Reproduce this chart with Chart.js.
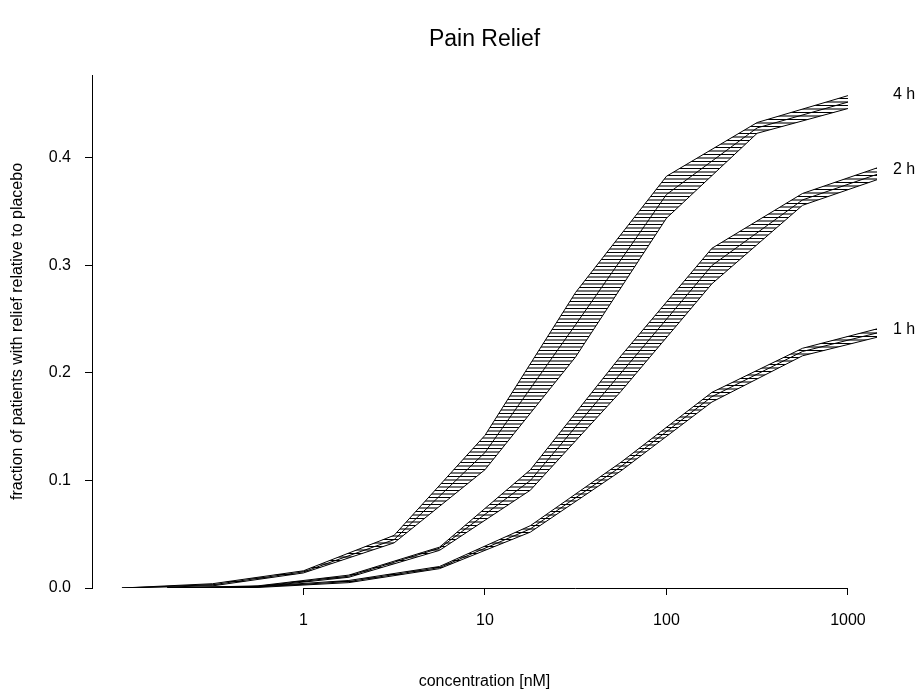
<!DOCTYPE html>
<html>
<head>
<meta charset="utf-8">
<script src="https://cdn.jsdelivr.net/npm/chart.js@4"></script>
<style>
  html, body { margin: 0; padding: 0; background: #fff; }
  #wrap { width: 921px; height: 694px; }
</style>
</head>
<body>
<div id="wrap"><canvas id="painChart" width="921" height="694"></canvas></div>
<script>
// concentrations (nM) for each time group
const conc4h = [0.1, 0.316, 1, 3.16, 10, 31.6, 100, 316, 1000];
const conc12h = [0.178, 0.562, 1.78, 5.62, 17.8, 56.2, 178, 562, 1778];

// 4 h band
const lower4h = [0, 0.002, 0.014, 0.042, 0.110, 0.215, 0.344, 0.423, 0.446];
const mid4h   = [0, 0.003, 0.015, 0.045, 0.126, 0.245, 0.366, 0.428, 0.452];
const upper4h = [0, 0.004, 0.016, 0.049, 0.142, 0.275, 0.383, 0.433, 0.458];

// 2 h band
const lower2h = [0, 0.001, 0.010, 0.035, 0.091, 0.183, 0.283, 0.356, 0.385];
const mid2h   = [0, 0.0015, 0.011, 0.037, 0.100, 0.200, 0.300, 0.361, 0.390];
const upper2h = [0, 0.002, 0.012, 0.038, 0.110, 0.216, 0.316, 0.367, 0.396];

// 1 h band
const lower1h = [0, 0.0005, 0.005, 0.018, 0.052, 0.109, 0.173, 0.216, 0.237];
const mid1h   = [0, 0.001, 0.006, 0.019, 0.055, 0.113, 0.178, 0.220, 0.241];
const upper1h = [0, 0.0015, 0.007, 0.020, 0.058, 0.117, 0.182, 0.223, 0.245];

// curve labels at the right margin
const curveNames = ['4 h', '2 h', '1 h'];
const curveLabelY = [0.459, 0.389, 0.240];

// tick labels
const xTicks = [1, 10, 100, 1000];
const yTicks = [0, 0.1, 0.2, 0.3, 0.4];

const FONT = "'Liberation Sans', Arial, Helvetica, sans-serif";

// horizontal hatching pattern
function makeHatch() {
    const c = document.createElement('canvas');
    c.width = 8;
    c.height = 7;
    const g = c.getContext('2d');
    g.fillStyle = '#000';
    g.fillRect(0, 0, 8, 1);
    g.fillStyle = 'rgba(0,0,0,0.55)';
    g.fillRect(0, 3, 8, 2);
    return g.createPattern(c, 'repeat');
}
const hatch = makeHatch();

const toPts = (xs, ys) => xs.map((x, i) => ({x: x, y: ys[i]}));

const lineBase = {
    borderColor: '#000',
    borderWidth: 1,
    pointRadius: 0,
    tension: 0,
    fill: false
};

function band(xs, lo, mid, up) {
    return [
        {...lineBase, data: toPts(xs, lo)},
        {...lineBase, data: toPts(xs, up), fill: '-1', backgroundColor: hatch},
        {...lineBase, data: toPts(xs, mid)}
    ];
}

const extras = {
    id: 'extras',
    afterDraw(chart) {
        const {ctx, chartArea, scales} = chart;
        const x = scales.x, y = scales.y;
        ctx.save();
        // x axis line only between first and last tick
        ctx.strokeStyle = '#000';
        ctx.lineWidth = 1;
        const yb = Math.round(chartArea.bottom) + 0.5;
        ctx.beginPath();
        ctx.moveTo(x.getPixelForValue(xTicks[0]), yb);
        ctx.lineTo(x.getPixelForValue(xTicks[xTicks.length - 1]), yb);
        ctx.stroke();
        // title
        ctx.fillStyle = '#000';
        ctx.font = '23px ' + FONT;
        ctx.textAlign = 'center';
        ctx.textBaseline = 'middle';
        ctx.fillText('Pain Relief', (chartArea.left + chartArea.right) / 2, 40);
        // curve labels
        ctx.font = '16px ' + FONT;
        ctx.textAlign = 'left';
        curveNames.forEach((n, i) => {
            ctx.fillText(n, chartArea.right + 16, y.getPixelForValue(curveLabelY[i]));
        });
        ctx.restore();
    }
};

const ctx = document.getElementById('painChart').getContext('2d');
new Chart(ctx, {
    type: 'line',
    data: {
        datasets: [
            ...band(conc4h, lower4h, mid4h, upper4h),
            ...band(conc12h, lower2h, mid2h, upper2h),
            ...band(conc12h, lower1h, mid1h, upper1h)
        ]
    },
    options: {
        responsive: false,
        animation: false,
        devicePixelRatio: 1,
        layout: {padding: {top: 75, right: 44, bottom: 0, left: 0}},
        plugins: {
            legend: {display: false},
            title: {display: false},
            tooltip: {enabled: false}
        },
        scales: {
            x: {
                type: 'logarithmic',
                min: Math.pow(10, -1.165),
                max: Math.pow(10, 3.16),
                afterFit: s => { s.height = 106; },
                afterBuildTicks: s => { s.ticks = xTicks.map(v => ({value: v})); },
                border: {display: false},
                grid: {display: true, drawOnChartArea: false, drawTicks: true, tickLength: 7, color: '#000'},
                ticks: {
                    color: '#000',
                    font: {family: FONT, size: 16},
                    padding: 16,
                    maxRotation: 0,
                    autoSkip: false,
                    callback: v => String(v)
                },
                title: {
                    display: true,
                    text: 'concentration [nM]',
                    color: '#000',
                    font: {family: FONT, size: 16},
                    padding: {top: 0, bottom: 3}
                }
            },
            y: {
                type: 'linear',
                min: 0,
                max: 0.4772,
                afterFit: s => { s.width = 92; },
                afterBuildTicks: s => { s.ticks = yTicks.map(v => ({value: v})); },
                border: {display: true, color: '#000', width: 1},
                grid: {display: true, drawOnChartArea: false, drawTicks: true, tickLength: 7, color: '#000'},
                ticks: {
                    color: '#000',
                    font: {family: FONT, size: 16},
                    padding: 14,
                    callback: v => v.toFixed(1)
                },
                title: {
                    display: true,
                    text: 'fraction of patients with relief relative to placebo',
                    color: '#000',
                    font: {family: FONT, size: 16},
                    padding: {top: 8, bottom: 0}
                }
            }
        }
    },
    plugins: [extras]
});
</script>
</body>
</html>
